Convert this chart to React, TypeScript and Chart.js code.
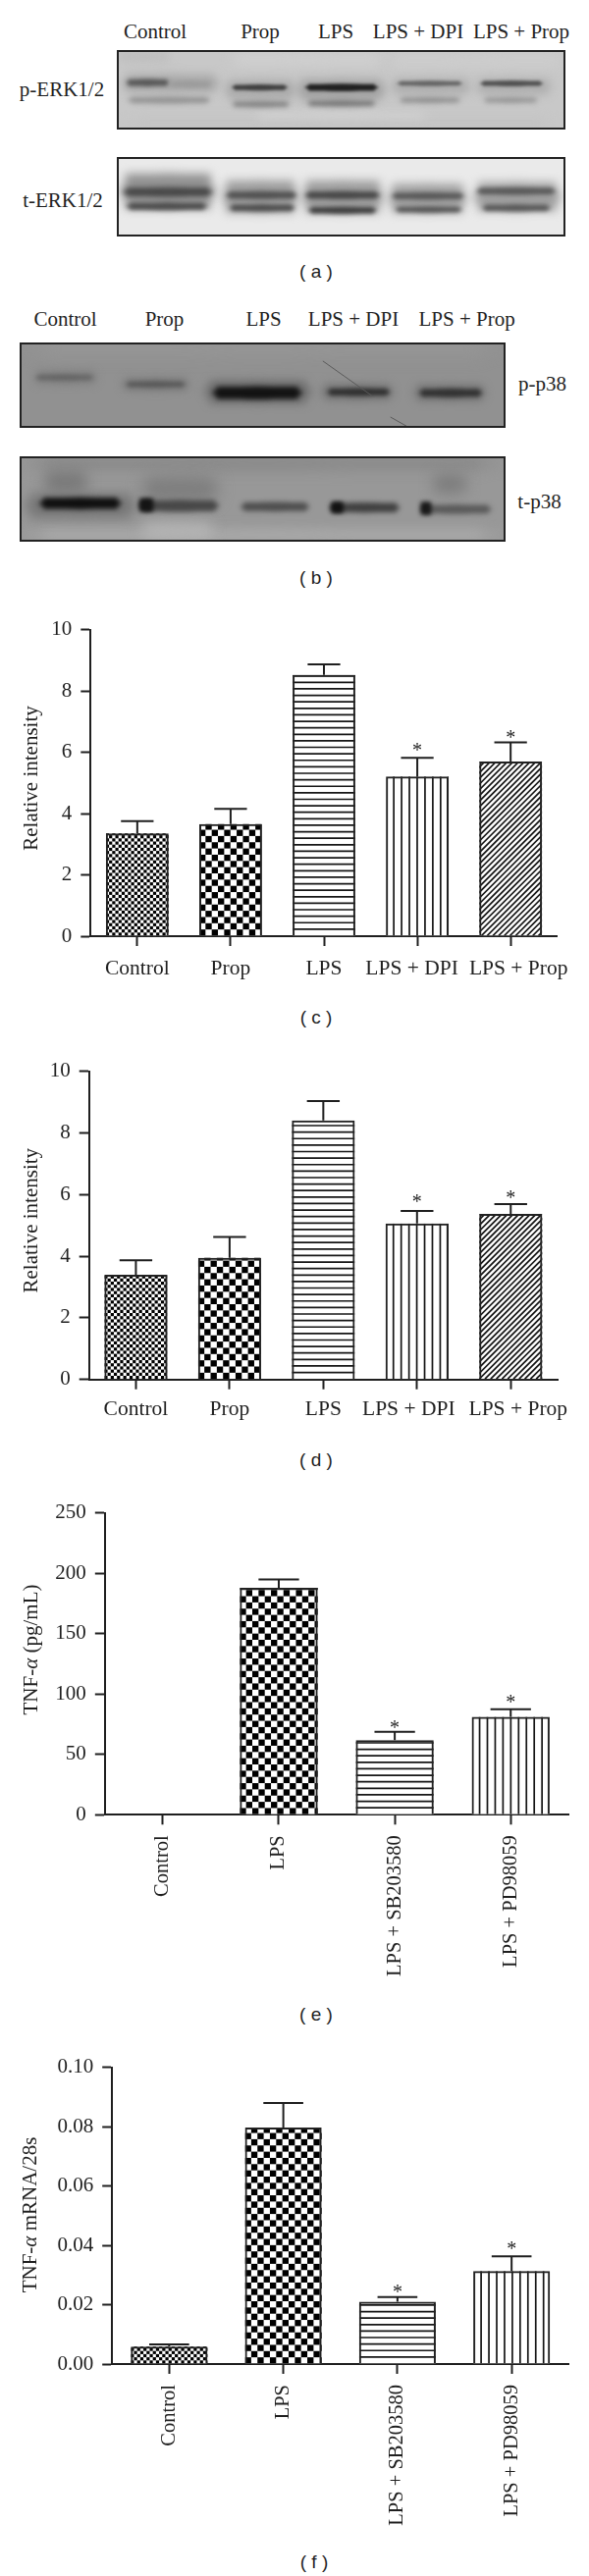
import React, { useEffect, useRef } from "react";
import { Chart, registerables } from "chart.js";
Chart.register(...registerables);

const SERIF = "'Liberation Serif', serif";
const INK = "#1f1f1f";

// ---- panels (c) and (d)
const CATEGORIES_CD = ["Control", "Prop", "LPS", "LPS + DPI", "LPS + Prop"];
const VALUES_C = [3.35, 3.66, 8.52, 5.21, 5.7];
const ERR_TOP_C = [3.75, 4.15, 8.87, 5.82, 6.32];
const STARS_C = [null, null, null, 6.17, 6.59];
const VALUES_D = [3.4, 3.95, 8.4, 5.06, 5.37];
const ERR_TOP_D = [3.87, 4.62, 9.03, 5.47, 5.69];
const STARS_D = [null, null, null, 5.85, 6.0];
const TICKS_CD = [0, 2, 4, 6, 8, 10];
const TICK_LABELS_CD = ["0", "2", "4", "6", "8", "10"];
const PATTERNS_CD = ["fine", "coarse", "h", "v", "diag"];

// ---- panels (e) and (f)
const CATEGORIES_EF = ["Control", "LPS", "LPS + SB203580", "LPS + PD98059"];
const VALUES_E = [0, 188, 61.8, 81];
const ERR_TOP_E = [null, 194.8, 68.6, 87.4];
const STARS_E = [null, null, 74.2, 95.7];
const TICKS_E = [0, 50, 100, 150, 200, 250];
const TICK_LABELS_E = ["0", "50", "100", "150", "200", "250"];
const VALUES_F = [0.0059, 0.0797, 0.021, 0.0313];
const ERR_TOP_F = [0.0066, 0.088, 0.0226, 0.0363];
const STARS_F = [null, null, 0.0252, 0.0397];
const TICKS_F = [0, 0.02, 0.04, 0.06, 0.08, 0.1];
const TICK_LABELS_F = ["0.00", "0.02", "0.04", "0.06", "0.08", "0.10"];
const PATTERNS_EF = ["fine", "coarse", "h", "v"];

// ---- gel images: [x0 %, x1 %, y %, thickness %, grey, blur px]
type Band = number[];
const GEL_A1: Band[] = [
  [0, 12, 8, 14, 190, 5], [25, 60, 12, 14, 208, 6], [60, 100, 14, 16, 205, 6], [0, 100, 92, 14, 196, 5], [30, 70, 82, 8, 210, 5],
  [1, 23, 42, 22, 168, 5], [24, 40, 50, 24, 170, 5], [40, 60, 50, 26, 162, 5], [61, 79, 46, 20, 174, 5], [80, 97, 46, 20, 174, 5],
  [2.1, 11.7, 41, 8, 85, 2.2], [11.7, 21, 43, 7, 155, 2.2], [25.6, 38.1, 47, 6.5, 62, 1.8], [41.9, 58.3, 47, 8.5, 32, 1.8], [62.4, 77.1, 42, 5.5, 100, 1.8], [80.9, 95.1, 42, 6, 80, 1.8],
  [2.3, 21, 63, 8, 148, 2.6], [25.6, 38.6, 68, 7, 132, 2.4], [42.3, 57.8, 67, 7, 118, 2.4], [62.9, 76.7, 63, 6, 142, 2.4], [81.7, 93.9, 63, 6, 148, 2.4],
];
const GEL_A2: Band[] = [
  [0.8, 22, 43, 44, 145, 5], [23.5, 40.5, 50, 40, 155, 5], [41.2, 59.5, 50, 40, 155, 5], [60.5, 78, 52, 36, 158, 5], [79.5, 99, 50, 36, 158, 5],
  [1.3, 21.4, 44, 11, 72, 2.4], [24.3, 40.2, 48, 9, 82, 2.2], [41.9, 58.7, 48, 9, 72, 2.2], [61.2, 77.5, 49, 8, 88, 2.2], [80, 98, 43, 8, 88, 2.2],
  [2, 20.3, 62, 9, 78, 2.2], [25, 39.8, 64, 8, 78, 2.2], [42.6, 58, 67, 8, 62, 2.2], [62, 77, 66, 7, 84, 2.2], [81.3, 96.8, 64, 8, 88, 2.2],
];
const GEL_B1: Band[] = [
  [0, 100, 5, 20, 150, 8], [3, 16, 41, 14, 125, 4], [21, 35, 49, 14, 122, 4], [38, 60, 58, 26, 105, 5], [62, 77, 58, 18, 115, 4], [81, 96, 59, 18, 115, 4],
  [3.2, 15.2, 41, 5, 98, 2.2], [21.8, 34.2, 49, 6, 88, 2.2], [39.6, 58.2, 59, 14, 18, 2.6], [63.2, 76.3, 58, 8, 48, 2.2], [82.1, 95.3, 59, 9, 50, 2.2],
];
const GEL_B2: Band[] = [
  [0, 100, 8, 14, 135, 7], [0, 100, 92, 12, 172, 6], [25, 40, 88, 20, 180, 7], [1, 24, 58, 28, 118, 6],
  [5, 14, 30, 26, 122, 7], [25, 41, 38, 28, 125, 8], [85, 92, 32, 22, 125, 7],
  [4, 21, 55, 13, 15, 2.6], [24.5, 41.1, 58, 13, 72, 2.6], [24.5, 27.6, 57, 16, 20, 2.2], [45.4, 59.7, 59, 10, 78, 2.6], [63.6, 78.3, 60, 11, 64, 2.6], [64, 66.7, 60, 13, 18, 2.2], [82.4, 97.2, 62, 10, 90, 2.6], [82.4, 84.8, 61, 15, 25, 2.2],
];
const SCRATCHES_B1 = [[62.4, 21.7, 72.5, 62.4], [76.3, 87.3, 79.8, 98.6]];

const LANE_LABELS = ["Control", "Prop", "LPS", "LPS + DPI", "LPS + Prop"];

const grey = (g: number) => `rgb(${g},${g},${g})`;

function drawPattern(ctx: any, kind: string, left: number, right: number, top: number, base: number) {
  ctx.save();
  ctx.beginPath();
  ctx.rect(left, top, right - left, base - top);
  ctx.clip();
  ctx.fillStyle = "#fff";
  ctx.fillRect(left, top, right - left, base - top);
  ctx.strokeStyle = "#151515";
  ctx.fillStyle = "#000";
  ctx.lineWidth = 1.7;
  if (kind === "fine" || kind === "coarse") {
    const s = kind === "fine" ? 3.2 : 6.35;
    for (let j = 0; base - j * s > top; j++) {
      for (let i = 0; left + i * s < right; i++) {
        if ((i + j) % 2 === 0) ctx.fillRect(left + i * s, base - (j + 1) * s, s, s);
      }
    }
  } else if (kind === "h") {
    for (let y = base - 6.62; y > top; y -= 6.62) {
      ctx.beginPath();
      ctx.moveTo(left, y);
      ctx.lineTo(right, y);
      ctx.stroke();
    }
  } else if (kind === "v") {
    for (let x = left + 8; x < right; x += 7.95) {
      ctx.beginPath();
      ctx.moveTo(x, top);
      ctx.lineTo(x, base);
      ctx.stroke();
    }
  } else {
    const h = base - top;
    for (let x = left - h; x < right; x += 5.8) {
      ctx.beginPath();
      ctx.moveTo(x, base);
      ctx.lineTo(x + h, top);
      ctx.stroke();
    }
  }
  ctx.restore();
}

const decor = {
  id: "decor",
  beforeDatasetsDraw(chart: any, _a: any, o: any) {
    const ctx = chart.ctx;
    chart.getDatasetMeta(0).data.forEach((bar: any, i: number) => {
      if (bar.base - bar.y < 1) return;
      drawPattern(ctx, o.patterns[i], bar.x - bar.width / 2, bar.x + bar.width / 2, bar.y, bar.base);
    });
  },
  afterDatasetsDraw(chart: any, _a: any, o: any) {
    const ctx = chart.ctx;
    const yS = chart.scales.y;
    const xS = chart.scales.x;
    chart.getDatasetMeta(0).data.forEach((bar: any, i: number) => {
      const e = o.errTop[i];
      if (e != null) {
        const y = yS.getPixelForValue(e);
        const cap = bar.width * 0.52;
        ctx.save();
        ctx.strokeStyle = INK;
        ctx.lineWidth = 2;
        ctx.beginPath();
        ctx.moveTo(bar.x, bar.y);
        ctx.lineTo(bar.x, y);
        ctx.moveTo(bar.x - cap / 2, y);
        ctx.lineTo(bar.x + cap / 2, y);
        ctx.stroke();
        ctx.restore();
      }
      const s = o.stars[i];
      if (s != null) {
        ctx.save();
        ctx.fillStyle = INK;
        ctx.font = `20px ${SERIF}`;
        ctx.textAlign = "center";
        ctx.textBaseline = "alphabetic";
        ctx.fillText("*", xS.getPixelForTick(i), yS.getPixelForValue(s) + 9.4);
        ctx.restore();
      }
    });
  },
  afterDraw(chart: any, _a: any, o: any) {
    const ctx = chart.ctx;
    const xS = chart.scales.x;
    if (o.labelShift) {
      ctx.save();
      ctx.fillStyle = INK;
      ctx.font = `21.5px ${SERIF}`;
      ctx.textAlign = "center";
      ctx.textBaseline = "middle";
      xS.getLabels().forEach((t: string, i: number) => {
        ctx.fillText(t, xS.getPixelForTick(i) + o.labelShift[i], chart.chartArea.bottom + o.labelDy);
      });
      ctx.restore();
    }
    // axis title, made of runs so the Greek letter can lean
    ctx.save();
    ctx.translate(o.titleX, o.titleY);
    ctx.rotate(-Math.PI / 2);
    ctx.fillStyle = INK;
    ctx.textBaseline = "middle";
    ctx.textAlign = "left";
    const runs: [string, string][] = o.title;
    const fontOf = (st: string) => `${st} 21px ${SERIF}`;
    let w = 0;
    runs.forEach(([t, st]) => {
      ctx.font = fontOf(st);
      w += ctx.measureText(t).width;
    });
    let x = -w / 2;
    runs.forEach(([t, st]) => {
      ctx.font = fontOf(st);
      ctx.fillText(t, x, 0);
      x += ctx.measureText(t).width;
    });
    ctx.restore();
  },
};

const gelPlugin = {
  id: "gel",
  beforeDraw(chart: any, _a: any, o: any) {
    const ctx = chart.ctx;
    const { x, y } = chart.scales;
    const { width, height } = chart;
    ctx.save();
    ctx.beginPath();
    ctx.rect(0, 0, width, height);
    ctx.clip();
    ctx.fillStyle = grey(o.background);
    ctx.fillRect(0, 0, width, height);
    o.bands.forEach(([x0, x1, yc, th, g, blur]: number[]) => {
      ctx.filter = `blur(${blur}px)`;
      ctx.fillStyle = grey(g);
      const px0 = x.getPixelForValue(x0);
      const px1 = x.getPixelForValue(x1);
      const py0 = y.getPixelForValue(yc - th / 2);
      const py1 = y.getPixelForValue(yc + th / 2);
      ctx.beginPath();
      ctx.ellipse((px0 + px1) / 2, (py0 + py1) / 2, (px1 - px0) / 2, (py1 - py0) / 2 + 0.5, 0, 0, Math.PI * 2);
      ctx.rect(px0 + (px1 - px0) * 0.05, py0, (px1 - px0) * 0.9, py1 - py0);
      ctx.fill();
    });
    ctx.filter = "blur(0.7px)";
    ctx.strokeStyle = "#5a5a5a";
    ctx.lineWidth = 1;
    (o.scratches || []).forEach(([a, b, c, d]: number[]) => {
      ctx.beginPath();
      ctx.moveTo(x.getPixelForValue(a), y.getPixelForValue(b));
      ctx.lineTo(x.getPixelForValue(c), y.getPixelForValue(d));
      ctx.stroke();
    });
    ctx.filter = "none";
    ctx.strokeStyle = "#222";
    ctx.lineWidth = 2;
    ctx.strokeRect(1, 1, width - 2, height - 2);
    ctx.restore();
  },
};

type Panel = {
  top: number; height: number; l: number; t: number; r: number; b: number;
  cats: string[]; values: number[]; errTop: (number | null)[]; stars: (number | null)[];
  patterns: string[]; ticks: number[]; tickLabels: string[];
  title: [string, string][]; titleX: number; titleY: number;
  labelShift?: number[]; labelDy?: number; rotated?: boolean;
};

const PANELS: Panel[] = [
  { top: 620, height: 400, l: 92.3, t: 635.7, r: 567.7, b: 954, cats: CATEGORIES_CD, values: VALUES_C, errTop: ERR_TOP_C, stars: STARS_C, patterns: PATTERNS_CD, ticks: TICKS_CD, tickLabels: TICK_LABELS_CD, title: [["Relative intensity", "normal"]], titleX: 32.5, titleY: 793, labelShift: [0, 0, 0, -5.5, 8], labelDy: 33 },
  { top: 1070, height: 400, l: 90.7, t: 1084.7, r: 568, b: 1405.7, cats: CATEGORIES_CD, values: VALUES_D, errTop: ERR_TOP_D, stars: STARS_D, patterns: PATTERNS_CD, ticks: TICKS_CD, tickLabels: TICK_LABELS_CD, title: [["Relative intensity", "normal"]], titleX: 32.5, titleY: 1243.7, labelShift: [0, 0, 0, -8.5, 7.5], labelDy: 31 },
  { top: 1520, height: 510, l: 106.8, t: 1535, r: 579.3, b: 1849.3, cats: CATEGORIES_EF, values: VALUES_E, errTop: ERR_TOP_E, stars: STARS_E, patterns: PATTERNS_EF, ticks: TICKS_E, tickLabels: TICK_LABELS_E, title: [["TNF-", "normal"], ["\u03b1", "italic"], [" (pg/mL)", "normal"]], titleX: 32, titleY: 1681, rotated: true },
  { top: 2085, height: 510, l: 114.2, t: 2099.3, r: 579.3, b: 2409, cats: CATEGORIES_EF, values: VALUES_F, errTop: ERR_TOP_F, stars: STARS_F, patterns: PATTERNS_EF, ticks: TICKS_F, tickLabels: TICK_LABELS_F, title: [["TNF-", "normal"], ["\u03b1", "italic"], [" mRNA/28s", "normal"]], titleX: 31, titleY: 2257, rotated: true },
];

const GELS = [
  { left: 118.5, top: 50.5, w: 457, h: 81.5, background: 200, bands: GEL_A1, scratches: [] },
  { left: 118.5, top: 160, w: 457, h: 81, background: 234, bands: GEL_A2, scratches: [] },
  { left: 20, top: 348.5, w: 495.5, h: 87.5, background: 145, bands: GEL_B1, scratches: SCRATCHES_B1 },
  { left: 20, top: 465, w: 495.5, h: 87.5, background: 152, bands: GEL_B2, scratches: [] },
];

const TEXTS: { t: string; x: number; y: number; sans?: boolean }[] = [
  ...LANE_LABELS.map((t, i) => ({ t, x: [158, 265, 342, 426, 531][i], y: 31.5 })),
  ...LANE_LABELS.map((t, i) => ({ t, x: [66.6, 167.5, 268.5, 360, 475.6][i], y: 325 })),
  { t: "p-ERK1/2", x: 63, y: 91 },
  { t: "t-ERK1/2", x: 64, y: 203.6 },
  { t: "p-p38", x: 552.5, y: 390.5 },
  { t: "t-p38", x: 549.5, y: 511 },
  { t: "( a )", x: 322, y: 275.5, sans: true },
  { t: "( b )", x: 322, y: 587.7, sans: true },
  { t: "( c )", x: 322, y: 1036, sans: true },
  { t: "( d )", x: 322, y: 1487, sans: true },
  { t: "( e )", x: 322, y: 2052, sans: true },
  { t: "( f )", x: 320, y: 2609.5, sans: true },
];

export default function App() {
  const panelRefs = useRef<(HTMLCanvasElement | null)[]>([]);
  const gelRefs = useRef<(HTMLCanvasElement | null)[]>([]);

  useEffect(() => {
    const charts: Chart[] = [];
    PANELS.forEach((p, idx) => {
      const canvas = panelRefs.current[idx]!;
      charts.push(
        new Chart(canvas, {
          type: "bar",
          data: {
            labels: p.cats,
            datasets: [
              {
                data: p.values,
                backgroundColor: "rgba(0,0,0,0)",
                borderColor: "#222",
                borderWidth: 2,
                barPercentage: 0.672,
                categoryPercentage: 1,
              },
            ],
          },
          plugins: [decor],
          options: {
            animation: false,
            responsive: false,
            layout: { padding: { left: 0, top: p.t - p.top, right: 600 - p.r, bottom: 0 } },
            plugins: {
              legend: { display: false },
              tooltip: { enabled: false },
              decor: {
                errTop: p.errTop, stars: p.stars, patterns: p.patterns, title: p.title,
                titleX: p.titleX, titleY: p.titleY - p.top, labelShift: p.labelShift, labelDy: p.labelDy,
              },
            } as any,
            scales: {
              x: {
                type: "category",
                offset: true,
                grid: { offset: false, drawOnChartArea: false, tickLength: 10, tickWidth: 2, color: INK },
                border: { display: true, width: 2, color: INK },
                ticks: p.rotated
                  ? { display: true, autoSkip: false, minRotation: 90, maxRotation: 90, padding: 11, color: INK, font: { family: "Liberation Serif", size: 20.5 } }
                  : { display: false },
                afterFit: (s: any) => { s.height = p.height - (p.b - p.top); },
              },
              y: {
                type: "linear",
                min: p.ticks[0],
                max: p.ticks[p.ticks.length - 1],
                grid: { drawOnChartArea: false, tickLength: 10, tickWidth: 2, color: INK },
                border: { display: true, width: 2, color: INK },
                afterBuildTicks: (s: any) => { s.ticks = p.ticks.map((value) => ({ value })); },
                ticks: {
                  padding: 9,
                  color: INK,
                  font: { family: "Liberation Serif", size: 21 },
                  callback: (_v: any, i: number) => p.tickLabels[i],
                },
                afterFit: (s: any) => { s.width = p.l; },
              },
            },
          } as any,
        })
      );
    });
    GELS.forEach((g, idx) => {
      const canvas = gelRefs.current[idx]!;
      charts.push(
        new Chart(canvas, {
          type: "scatter",
          data: { datasets: [{ data: [] }] },
          plugins: [gelPlugin],
          options: {
            animation: false,
            responsive: false,
            layout: { padding: 0 },
            plugins: {
              legend: { display: false },
              tooltip: { enabled: false },
              gel: { background: g.background, bands: g.bands, scratches: g.scratches },
            } as any,
            scales: {
              x: { type: "linear", min: 0, max: 100, display: false },
              y: { type: "linear", min: 0, max: 100, reverse: true, display: false },
            },
          } as any,
        })
      );
    });
    return () => charts.forEach((c) => c.destroy());
  }, []);

  return (
    <div style={{ position: "absolute", left: 0, top: 0, width: 600, height: 2625, background: "#fff", overflow: "hidden" }}>
      {GELS.map((g, i) => (
        <canvas
          key={"g" + i}
          ref={(el) => { gelRefs.current[i] = el; }}
          width={g.w}
          height={g.h}
          style={{ position: "absolute", left: g.left, top: g.top, display: "block" }}
        />
      ))}
      {PANELS.map((p, i) => (
        <canvas
          key={"p" + i}
          ref={(el) => { panelRefs.current[i] = el; }}
          width={600}
          height={p.height}
          style={{ position: "absolute", left: 0, top: p.top, display: "block" }}
        />
      ))}
      {TEXTS.map((x, i) => (
        <div
          key={"t" + i}
          style={{
            position: "absolute",
            left: x.x,
            top: x.y,
            transform: "translate(-50%,-50%)",
            whiteSpace: "nowrap",
            lineHeight: 1,
            color: INK,
            fontFamily: x.sans ? "'Liberation Sans', sans-serif" : SERIF,
            fontSize: x.sans ? 19 : 21,
          }}
        >
          {x.t}
        </div>
      ))}
    </div>
  );
}
